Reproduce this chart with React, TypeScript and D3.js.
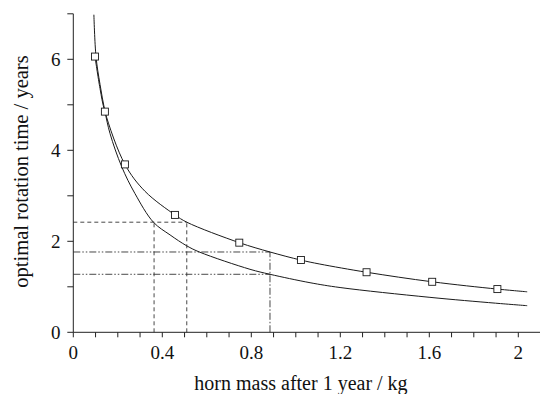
import React from "react";
import * as d3 from "d3";

// Fitted curve through the observed points (upper curve)
const fitX = [0.0975, 0.12, 0.142, 0.232, 0.322, 0.457, 0.51, 0.746, 0.884, 1.023, 1.108, 1.318, 1.613, 1.906, 2.04];
const fitY = [6.06, 5.36, 4.85, 3.69, 3.1, 2.58, 2.42, 1.97, 1.765, 1.587, 1.5, 1.32, 1.11, 0.95, 0.89];

// Model curve (lower curve)
const modelX = [0.0925, 0.102, 0.12, 0.142, 0.165, 0.2175, 0.277, 0.36, 0.435, 0.51, 0.569, 0.794, 0.884, 1.064, 1.199, 1.599, 1.898, 2.04];
const modelY = [6.98, 6.06, 5.45, 4.86, 4.37, 3.64, 3.05, 2.42, 2.14, 1.9, 1.76, 1.385, 1.275, 1.09, 0.984, 0.77, 0.64, 0.585];

// Observed points (squares)
const obsX = [0.0975, 0.142, 0.232, 0.457, 0.746, 1.023, 1.318, 1.613, 1.906];
const obsY = [6.06, 4.85, 3.69, 2.58, 1.97, 1.59, 1.32, 1.11, 0.95];

// Reference lines
const dashLevel = 2.42;
const dashXs = [0.363, 0.51];
const dotLevels = [1.765, 1.275];
const dotX = 0.884;

const xTicks = d3.range(0, 21).map((i) => i / 10);
const xTickLabels = [0, 0.4, 0.8, 1.2, 1.6, 2];
const yTicks = [0, 1, 2, 3, 4, 5, 6, 7];
const yTickLabels = [0, 2, 4, 6];

const W = 544;
const H = 394;

export default function App() {
  const x = d3.scaleLinear().domain([0, 2]).range([73.3, 518.3]);
  const y = d3.scaleLinear().domain([0, 7]).range([332.3, 13.8]);
  const x0 = x(0);
  const y0 = y(0);
  const font = "'Liberation Serif', 'Times New Roman', Times, 'DejaVu Serif', serif";
  const line = d3
    .line<[number, number]>()
    .x((d) => x(d[0]))
    .y((d) => y(d[1]))
    .curve(d3.curveCatmullRom.alpha(0.5));
  const fitPts = fitX.map((v, i) => [v, fitY[i]] as [number, number]);
  const modelPts = modelX.map((v, i) => [v, modelY[i]] as [number, number]);
  const stroke = "#1a1a1a";
  const dashDot = "7,2,1.5,2,1.5,2";
  return (
    <div style={{ position: "absolute", left: 0, top: 0, width: W, height: H, fontFamily: font }}>
      <svg width={W} height={H} style={{ display: "block", background: "#fff", fontFamily: font }}>
        {/* reference lines */}
        <g stroke="#333" strokeWidth={0.9} fill="none">
          <line x1={x0} x2={x(dashXs[1])} y1={y(dashLevel)} y2={y(dashLevel)} strokeDasharray="4,3" />
          {dashXs.map((v) => (
            <line key={v} x1={x(v)} x2={x(v)} y1={y0} y2={y(dashLevel)} strokeDasharray="4,3" />
          ))}
          {dotLevels.map((v) => (
            <line key={v} x1={x0} x2={x(dotX)} y1={y(v)} y2={y(v)} strokeDasharray={dashDot} />
          ))}
          <line x1={x(dotX)} x2={x(dotX)} y1={y0} y2={y(dotLevels[0])} strokeDasharray="7,2,1.5,2" />
        </g>
        {/* curves */}
        <path d={line(modelPts) || ""} fill="none" stroke={stroke} strokeWidth={1} />
        <path d={line(fitPts) || ""} fill="none" stroke={stroke} strokeWidth={1} />
        {/* squares */}
        {obsX.map((v, i) => (
          <rect key={i} x={x(v) - 3.5} y={y(obsY[i]) - 3.5} width={7} height={7} fill="#fff" stroke={stroke} strokeWidth={0.9} />
        ))}
        {/* axes */}
        <g stroke="#222" strokeWidth={1}>
          <line x1={x0} x2={540} y1={y0} y2={y0} />
          <line x1={x0} x2={x0} y1={y0} y2={y(7)} />
          {xTicks.map((t) => (
            <line key={t} x1={x(t)} x2={x(t)} y1={y0} y2={y0 + 5} />
          ))}
          {yTicks.map((t) => (
            <line key={t} x1={x0 - 6} x2={x0} y1={y(t)} y2={y(t)} />
          ))}
        </g>
        <g fontSize={19} fill="#111">
          {xTickLabels.map((t) => (
            <text key={t} x={x(t)} y={359} textAnchor="middle">
              {String(t)}
            </text>
          ))}
          {yTickLabels.map((t) => (
            <text key={t} x={60.5} y={y(t) + 6.5} textAnchor="end">
              {String(t)}
            </text>
          ))}
        </g>
        <text x={301} y={390} fontSize={20} textAnchor="middle" fill="#111">
          horn mass after 1 year / kg
        </text>
        <text transform={`translate(28,171.5) rotate(-90)`} fontSize={20.5} textAnchor="middle" fill="#111">
          optimal rotation time / years
        </text>
      </svg>
    </div>
  );
}
